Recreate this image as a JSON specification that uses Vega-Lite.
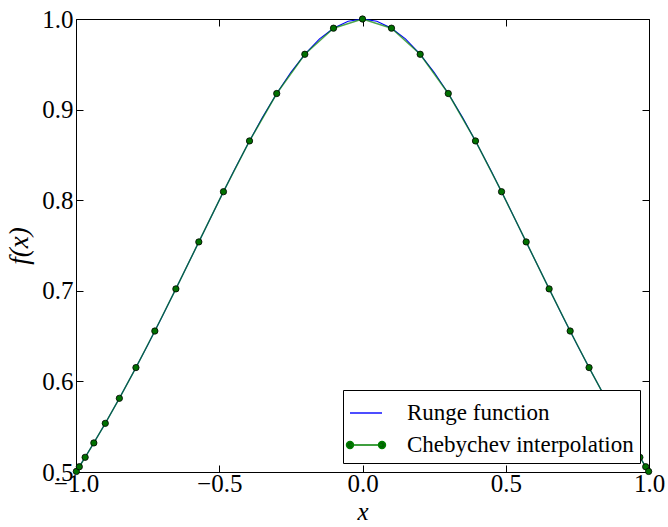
{
  "$schema": "https://vega.github.io/schema/vega-lite/v6.json",
  "width": 573,
  "height": 453,
  "autosize": "none",
  "padding": {"left": 76, "top": 19, "right": 19, "bottom": 55},
  "background": "white",
  "config": {
    "view": {"stroke": "black", "strokeWidth": 1},
    "font": "Liberation Serif",
    "axis": {
      "domain": false,
      "grid": false,
      "labelFlush": false,
      "labelOverlap": false,
      "tickColor": "black",
      "tickWidth": 1,
      "tickSize": -7,
      "labelColor": "black",
      "labelFont": "Liberation Serif",
      "labelFontSize": 25,
      "titleColor": "black",
      "titleFont": "Liberation Serif",
      "titleFontWeight": "normal",
      "titleFontStyle": "italic",
      "titleFontSize": 27
    }
  },
  "data": {
    "values": [
      {"series": "Runge function", "x": -1.0, "y": 0.5},
      {"series": "Runge function", "x": -0.95, "y": 0.525624},
      {"series": "Runge function", "x": -0.9, "y": 0.552486},
      {"series": "Runge function", "x": -0.85, "y": 0.580552},
      {"series": "Runge function", "x": -0.8, "y": 0.609756},
      {"series": "Runge function", "x": -0.75, "y": 0.64},
      {"series": "Runge function", "x": -0.7, "y": 0.671141},
      {"series": "Runge function", "x": -0.65, "y": 0.702988},
      {"series": "Runge function", "x": -0.6, "y": 0.735294},
      {"series": "Runge function", "x": -0.55, "y": 0.767754},
      {"series": "Runge function", "x": -0.5, "y": 0.8},
      {"series": "Runge function", "x": -0.45, "y": 0.831601},
      {"series": "Runge function", "x": -0.4, "y": 0.862069},
      {"series": "Runge function", "x": -0.35, "y": 0.890869},
      {"series": "Runge function", "x": -0.3, "y": 0.917431},
      {"series": "Runge function", "x": -0.25, "y": 0.941176},
      {"series": "Runge function", "x": -0.2, "y": 0.961538},
      {"series": "Runge function", "x": -0.15, "y": 0.977995},
      {"series": "Runge function", "x": -0.1, "y": 0.990099},
      {"series": "Runge function", "x": -0.05, "y": 0.997506},
      {"series": "Runge function", "x": 0.0, "y": 1.0},
      {"series": "Runge function", "x": 0.05, "y": 0.997506},
      {"series": "Runge function", "x": 0.1, "y": 0.990099},
      {"series": "Runge function", "x": 0.15, "y": 0.977995},
      {"series": "Runge function", "x": 0.2, "y": 0.961538},
      {"series": "Runge function", "x": 0.25, "y": 0.941176},
      {"series": "Runge function", "x": 0.3, "y": 0.917431},
      {"series": "Runge function", "x": 0.35, "y": 0.890869},
      {"series": "Runge function", "x": 0.4, "y": 0.862069},
      {"series": "Runge function", "x": 0.45, "y": 0.831601},
      {"series": "Runge function", "x": 0.5, "y": 0.8},
      {"series": "Runge function", "x": 0.55, "y": 0.767754},
      {"series": "Runge function", "x": 0.6, "y": 0.735294},
      {"series": "Runge function", "x": 0.65, "y": 0.702988},
      {"series": "Runge function", "x": 0.7, "y": 0.671141},
      {"series": "Runge function", "x": 0.75, "y": 0.64},
      {"series": "Runge function", "x": 0.8, "y": 0.609756},
      {"series": "Runge function", "x": 0.85, "y": 0.580552},
      {"series": "Runge function", "x": 0.9, "y": 0.552486},
      {"series": "Runge function", "x": 0.95, "y": 0.525624},
      {"series": "Runge function", "x": 1.0, "y": 0.5},
      {"series": "Chebychev interpolation", "x": -0.998717, "y": 0.500642},
      {"series": "Chebychev interpolation", "x": -0.988468, "y": 0.505799},
      {"series": "Chebychev interpolation", "x": -0.968077, "y": 0.516216},
      {"series": "Chebychev interpolation", "x": -0.937752, "y": 0.532091},
      {"series": "Chebychev interpolation", "x": -0.897805, "y": 0.553693},
      {"series": "Chebychev interpolation", "x": -0.848644, "y": 0.581329},
      {"series": "Chebychev interpolation", "x": -0.790776, "y": 0.615261},
      {"series": "Chebychev interpolation", "x": -0.724793, "y": 0.655598},
      {"series": "Chebychev interpolation", "x": -0.651372, "y": 0.702106},
      {"series": "Chebychev interpolation", "x": -0.571268, "y": 0.75395},
      {"series": "Chebychev interpolation", "x": -0.485302, "y": 0.809377},
      {"series": "Chebychev interpolation", "x": -0.394356, "y": 0.865414},
      {"series": "Chebychev interpolation", "x": -0.299363, "y": 0.917752},
      {"series": "Chebychev interpolation", "x": -0.201299, "y": 0.961057},
      {"series": "Chebychev interpolation", "x": -0.101169, "y": 0.989868},
      {"series": "Chebychev interpolation", "x": 0.0, "y": 1.0},
      {"series": "Chebychev interpolation", "x": 0.101169, "y": 0.989868},
      {"series": "Chebychev interpolation", "x": 0.201299, "y": 0.961057},
      {"series": "Chebychev interpolation", "x": 0.299363, "y": 0.917752},
      {"series": "Chebychev interpolation", "x": 0.394356, "y": 0.865414},
      {"series": "Chebychev interpolation", "x": 0.485302, "y": 0.809377},
      {"series": "Chebychev interpolation", "x": 0.571268, "y": 0.75395},
      {"series": "Chebychev interpolation", "x": 0.651372, "y": 0.702106},
      {"series": "Chebychev interpolation", "x": 0.724793, "y": 0.655598},
      {"series": "Chebychev interpolation", "x": 0.790776, "y": 0.615261},
      {"series": "Chebychev interpolation", "x": 0.848644, "y": 0.581329},
      {"series": "Chebychev interpolation", "x": 0.897805, "y": 0.553693},
      {"series": "Chebychev interpolation", "x": 0.937752, "y": 0.532091},
      {"series": "Chebychev interpolation", "x": 0.968077, "y": 0.516216},
      {"series": "Chebychev interpolation", "x": 0.988468, "y": 0.505799},
      {"series": "Chebychev interpolation", "x": 0.998717, "y": 0.500642}
    ]
  },
  "layer": [
    {
      "transform": [{"filter": "datum.series === 'Runge function'"}],
      "mark": {"type": "line", "strokeWidth": 1.1, "clip": false},
      "encoding": {
        "x": {
          "field": "x", "type": "quantitative",
          "scale": {"domain": [-1, 1], "nice": false, "zero": false},
          "axis": {"orient": "bottom", "values": [-1, -0.5, 0, 0.5, 1], "format": ".1f", "labelPadding": 6, "title": "x", "titlePadding": 3, "titleFontSize": 25}
        },
        "y": {
          "field": "y", "type": "quantitative",
          "scale": {"domain": [0.5, 1], "nice": false, "zero": false},
          "axis": {"orient": "left", "values": [0.5, 0.6, 0.7, 0.8, 0.9, 1.0], "format": ".1f", "labelPadding": 10, "title": "f(x)", "titlePadding": 8}
        },
        "color": {
          "field": "series", "type": "nominal",
          "scale": {"domain": ["Runge function", "Chebychev interpolation"], "range": ["#0000ff", "#008000"]},
          "legend": {
            "orient": "bottom-right",
            "offset": 9,
            "title": null,
            "strokeColor": "black",
            "fillColor": "white",
            "padding": 6,
            "cornerRadius": 0,
            "labelFont": "Liberation Serif",
            "labelFontSize": 23,
            "labelColor": "black",
            "labelOffset": 24,
            "labelLimit": 500,
            "rowPadding": 3,
            "symbolSize": 1024,
            "symbolStrokeWidth": 1.4,
            "symbolOpacity": 1,
            "encode": {
              "symbols": {
                "update": {
                  "shape": {"signal": "datum.value === 'Runge function' ? 'M-1,0L1,0' : 'M-1,0L1,0M-1.22,0A0.22,0.22 0 1,0 -0.78,0A0.22,0.22 0 1,0 -1.22,0M0.78,0A0.22,0.22 0 1,0 1.22,0A0.22,0.22 0 1,0 0.78,0'"},
                  "fill": {"signal": "datum.value === 'Runge function' ? 'transparent' : '#006400'"},
                  "stroke": {"signal": "datum.value === 'Runge function' ? '#0000ff' : '#6cb86c'"}
                }
              }
            }
          }
        }
      }
    },
    {
      "transform": [{"filter": "datum.series === 'Chebychev interpolation'"}],
      "mark": {"type": "line", "strokeWidth": 1.5, "opacity": 0.7, "clip": false},
      "encoding": {
        "x": {"field": "x", "type": "quantitative", "scale": {"domain": [-1, 1], "nice": false, "zero": false}, "axis": null},
        "y": {"field": "y", "type": "quantitative", "scale": {"domain": [0.5, 1], "nice": false, "zero": false}, "axis": null},
        "color": {"field": "series", "type": "nominal"}
      }
    },
    {
      "transform": [{"filter": "datum.series === 'Chebychev interpolation'"}],
      "mark": {"type": "point", "filled": true, "fill": "#007000", "stroke": "black", "strokeWidth": 0.8, "size": 40, "opacity": 1, "clip": false},
      "encoding": {
        "x": {"field": "x", "type": "quantitative", "scale": {"domain": [-1, 1], "nice": false, "zero": false}, "axis": {"orient": "top", "values": [-1, -0.5, 0, 0.5, 1], "labels": false, "title": null}},
        "y": {"field": "y", "type": "quantitative", "scale": {"domain": [0.5, 1], "nice": false, "zero": false}, "axis": {"orient": "right", "values": [0.5, 0.6, 0.7, 0.8, 0.9, 1.0], "labels": false, "title": null}}
      }
    }
  ],
  "resolve": {"axis": {"x": "independent", "y": "independent"}}
}
